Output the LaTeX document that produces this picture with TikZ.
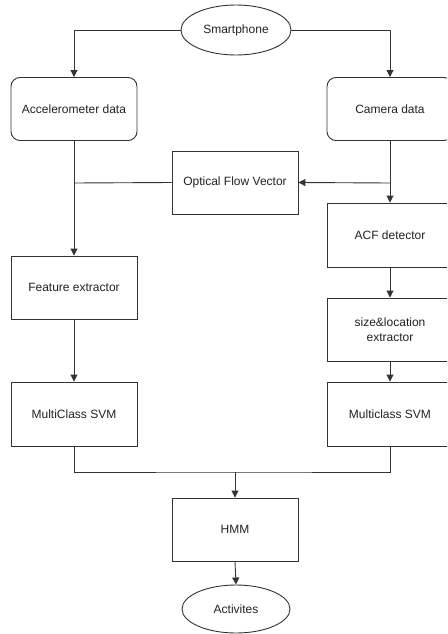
\documentclass[tikz,border=0pt]{standalone}
\usepackage{fontspec}
\setmainfont{Liberation Sans}
\usetikzlibrary{arrows.meta,shapes.geometric}
\definecolor{linegrey}{HTML}{333333}
\definecolor{textgrey}{HTML}{222222}
\begin{document}
\begin{tikzpicture}[x=1pt,y=-1pt,
  every node/.style={font=\fontsize{12}{15}\selectfont, text=textgrey},
  box/.style={draw=linegrey, line width=0.9pt, minimum width=126pt, minimum height=63pt, inner sep=0pt, align=center},
  roundbox/.style={box, rounded corners=9pt},
  oval/.style={ellipse, draw=linegrey, line width=0.9pt, minimum width=110pt, minimum height=50pt, inner sep=0pt},
  wire/.style={draw=linegrey, line width=0.9pt},
  flow/.style={wire, -{Triangle[length=7pt,width=7pt]}}]
\useasboundingbox (0,0) rectangle (447,634);
\clip (0,0) rectangle (447,634);

% sources
\node[oval] (sp) at (236,30) {Smartphone};
\node[roundbox] (acc) at (74,109) {Accelerometer data};
\node[roundbox] (cam) at (390,109) {Camera data};

% processing stages
\node[box] (ofv) at (235,182.5) {Optical Flow Vector};
\node[box, minimum height=64pt] (acf) at (390,235) {ACF detector};
\node[box] (fe) at (74,287.5) {Feature extractor};
\node[box] (sl) at (390,329.5) {size\&location\\extractor};
\node[box, minimum height=64pt] (svm1) at (74,414) {MultiClass SVM};
\node[box, minimum height=64pt] (svm2) at (390,414) {Multiclass SVM};
\node[box] (hmm) at (235,529.5) {HMM};
\node[oval, minimum width=108pt, minimum height=48pt] (act) at (236,609) {Activites};

% junction points
\coordinate (jl) at (74,183);
\coordinate (jr) at (390,183);
\coordinate (jb) at (235,472);

% connectors
\draw[flow] (sp.west) -| (acc.north);
\draw[flow] (sp.east) -| (cam.north);
\draw[flow] (acc.south) -- (fe.north);
\draw[wire] (ofv.west) -- (jl);
\draw[flow] (cam.south) -- (acf.north);
\draw[flow] (jr) -- (ofv.east);
\draw[flow] (acf.south) -- (sl.north);
\draw[flow] (sl.south) -- (svm2.north);
\draw[flow] (fe.south) -- (svm1.north);
\draw[wire] (svm1.south) |- (jb) -| (svm2.south);
\draw[flow] (jb) -- (hmm.north);
\draw[flow] (hmm.south) -- (act.north);
\end{tikzpicture}
\end{document}
